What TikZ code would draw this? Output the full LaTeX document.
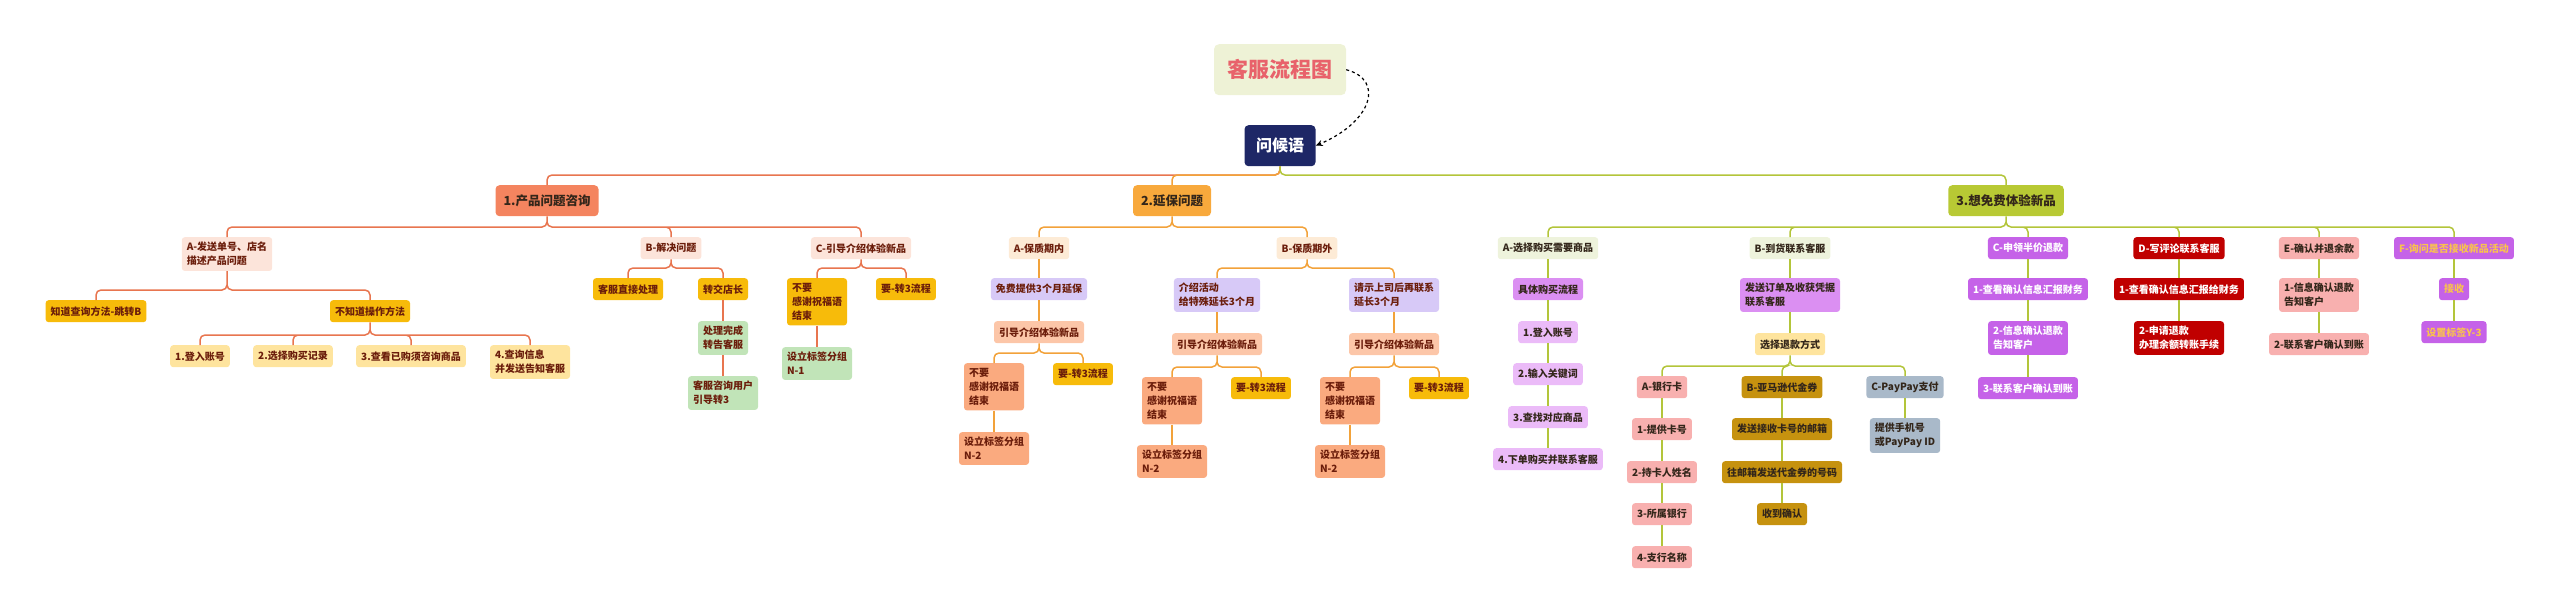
\documentclass[tikz,border=0pt]{standalone}
\usepackage{fontspec}
\setmainfont{Noto Sans CJK SC}
\usetikzlibrary{arrows.meta, calc}
\definecolor{titlered}{HTML}{E8626B}
\definecolor{titlebg}{HTML}{EEF2D6}
\definecolor{navy}{HTML}{1E2766}
\definecolor{lineone}{HTML}{E8754F}
\definecolor{linetwo}{HTML}{F2A23A}
\definecolor{linethree}{HTML}{B3C53A}
\definecolor{brown}{HTML}{6B1D0B}
\definecolor{darktxt}{HTML}{33261A}
\definecolor{prodfill}{HTML}{F4845F}
\definecolor{warrfill}{HTML}{F8A93C}
\definecolor{freefill}{HTML}{B8C934}
\definecolor{pinkfill}{HTML}{FCE4DA}
\definecolor{amberfill}{HTML}{F7BB0A}
\definecolor{yelfill}{HTML}{FEE49E}
\definecolor{greenfill}{HTML}{C1E4B8}
\definecolor{lavfill}{HTML}{D7C9F7}
\definecolor{lsalfill}{HTML}{FCC6A8}
\definecolor{salfill}{HTML}{FAAA7F}
\definecolor{peachfill}{HTML}{FDEBD6}
\definecolor{palegfill}{HTML}{EEF3DC}
\definecolor{purpmidfill}{HTML}{DB8FF2}
\definecolor{purplightfill}{HTML}{EBBBF8}
\definecolor{rosefill}{HTML}{F8B0AF}
\definecolor{goldfill}{HTML}{C6920F}
\definecolor{greybluefill}{HTML}{A9B9C9}
\definecolor{purpstrongfill}{HTML}{C562E8}
\definecolor{crimsonfill}{HTML}{C00000}
\definecolor{eventtxt}{HTML}{F9C24E}
\tikzset{
    box/.style={anchor=north, rounded corners=3pt, inner xsep=5pt, inner ysep=5pt,
        minimum height=22pt, align=left, font=\fontsize{10}{14}\selectfont\bfseries, text=brown},
    topic/.style={anchor=north, rounded corners=4pt, inner xsep=8pt, minimum height=31pt,
        font=\fontsize{12.5}{15}\selectfont\bfseries, text=darktxt},
    pinkbox/.style={box, fill=pinkfill},
    amber/.style={box, fill=amberfill},
    paleyel/.style={box, fill=yelfill},
    green/.style={box, fill=greenfill},
    lavender/.style={box, fill=lavfill},
    lsalmon/.style={box, fill=lsalfill},
    salmon/.style={box, fill=salfill},
    peach/.style={box, fill=peachfill},
    paleg/.style={box, fill=palegfill, text=darktxt},
    purpmid/.style={box, fill=purpmidfill, text=darktxt},
    purplight/.style={box, fill=purplightfill, text=darktxt},
    rose/.style={box, fill=rosefill, text=darktxt},
    gold/.style={box, fill=goldfill, text=darktxt},
    greyblue/.style={box, fill=greybluefill, text=darktxt},
    purpstrong/.style={box, fill=purpstrongfill, text=white},
    crimson/.style={box, fill=crimsonfill, text=white},
    linkone/.style={draw=lineone, line width=1.5pt, rounded corners=5pt},
    linktwo/.style={draw=linetwo, line width=1.5pt, rounded corners=5pt},
    linkthree/.style={draw=linethree, line width=1.5pt, rounded corners=5pt}
}

\begin{document}
\begin{tikzpicture}[x=1pt, y=-1pt]
    \useasboundingbox (0,0) rectangle (2560,613);
    % title and root
    \node[anchor=north, fill=titlebg, rounded corners=5pt, minimum width=132pt, minimum height=51pt,
        text=titlered, font=\fontsize{21}{24}\selectfont\bfseries] (title) at (1280,44) {客服流程图};
    \node[anchor=north, fill=navy, rounded corners=4pt, minimum width=71pt, minimum height=41pt,
        text=white, font=\fontsize{16}{18}\selectfont\bfseries] (greet) at (1280,125) {问候语};
    \draw[dashed, line width=1.2pt, -{Stealth[length=7pt,width=6pt]}] (title.east)
        .. controls (1385,80) and (1372,122) .. (greet.east);

    % main topics
    \node[topic, fill=prodfill] (prod) at (547,185) {1.产品问题咨询};
    \node[topic, fill=warrfill] (warr) at (1172,185) {2.延保问题};
    \node[topic, fill=freefill] (free) at (2006,185) {3.想免费体验新品};
    \draw[linkone] (greet.south) |- ([yshift=10pt]prod.north) -- (prod.north);
    \draw[linktwo] (greet.south) |- ([yshift=10pt]warr.north) -- (warr.north);
    \draw[linkthree] (greet.south) |- ([yshift=10pt]free.north) -- (free.north);

    % 1. product questions
    \node[pinkbox] (sendno) at (227,237) {A-发送单号、店名\\描述产品问题};
    \node[pinkbox] (solve) at (671,237) {B-解决问题};
    \node[pinkbox] (guide) at (861,237) {C-引导介绍体验新品};
    \node[amber] (knows) at (96,300) {知道查询方法-跳转B};
    \node[amber] (unknown) at (370,300) {不知道操作方法};
    \node[paleyel] (login) at (200,345) {1.登入账号};
    \node[paleyel] (record) at (293,345) {2.选择购买记录};
    \node[paleyel] (check) at (411,345) {3.查看已购须咨询商品};
    \node[paleyel] (query) at (530,345) {4.查询信息\\并发送告知客服};
    \node[amber] (direct) at (628,278) {客服直接处理};
    \node[amber] (manager) at (723,278) {转交店长};
    \node[green] (done) at (723,321) {处理完成\\转告客服};
    \node[green] (ask) at (723,376) {客服咨询用户\\引导转3};
    \node[amber] (noC) at (817,278) {不要\\感谢祝福语\\结束};
    \node[amber] (yesC) at (906,278) {要-转3流程};
    \node[green] (tagC) at (817,347) {设立标签分组\\N-1};
    \draw[linkone] (prod.south) |- ([yshift=10pt]sendno.north) -- (sendno.north)
        (prod.south) |- ([yshift=10pt]solve.north) -- (solve.north)
        (prod.south) |- ([yshift=10pt]guide.north) -- (guide.north);
    \draw[linkone] (sendno.south) |- ([yshift=10pt]knows.north) -- (knows.north)
        (sendno.south) |- ([yshift=10pt]unknown.north) -- (unknown.north);
    \draw[linkone] (unknown.south) |- ([yshift=10pt]login.north) -- (login.north)
        (unknown.south) |- ([yshift=10pt]record.north) -- (record.north)
        (unknown.south) |- ([yshift=10pt]check.north) -- (check.north)
        (unknown.south) |- ([yshift=10pt]query.north) -- (query.north);
    \draw[linkone] (solve.south) |- ([yshift=10pt]direct.north) -- (direct.north)
        (solve.south) |- ([yshift=10pt]manager.north) -- (manager.north);
    \draw[linkone] (manager) -- (done) (done) -- (ask);
    \draw[linkone] (guide.south) |- ([yshift=10pt]noC.north) -- (noC.north)
        (guide.south) |- ([yshift=10pt]yesC.north) -- (yesC.north);
    \draw[linkone] (noC) -- (tagC);

    % 2. extended warranty
    \node[peach] (inside) at (1039,237) {A-保质期内};
    \node[lavender] (freeext) at (1039,278) {免费提供3个月延保};
    \node[lsalmon] (introA) at (1039,321) {引导介绍体验新品};
    \node[salmon] (noA) at (994,363) {不要\\感谢祝福语\\结束};
    \node[amber] (yesA) at (1083,363) {要-转3流程};
    \node[salmon] (tagA) at (994,432) {设立标签分组\\N-2};
    \node[peach] (outside) at (1307,237) {B-保质期外};
    \node[lavender] (promo) at (1217,278) {介绍活动\\给特殊延长3个月};
    \node[lavender] (boss) at (1394,278) {请示上司后再联系\\延长3个月};
    \node[lsalmon] (introB) at (1217,333) {引导介绍体验新品};
    \node[salmon] (noB) at (1172,377) {不要\\感谢祝福语\\结束};
    \node[amber] (yesB) at (1261,377) {要-转3流程};
    \node[salmon] (tagB) at (1172,445) {设立标签分组\\N-2};
    \node[lsalmon] (introD) at (1394,333) {引导介绍体验新品};
    \node[salmon] (noD) at (1350,377) {不要\\感谢祝福语\\结束};
    \node[amber] (yesD) at (1439,377) {要-转3流程};
    \node[salmon] (tagD) at (1350,445) {设立标签分组\\N-2};
    \draw[linktwo] (warr.south) |- ([yshift=10pt]inside.north) -- (inside.north)
        (warr.south) |- ([yshift=10pt]outside.north) -- (outside.north);
    \draw[linktwo] (inside) -- (freeext) (freeext) -- (introA) (noA) -- (tagA);
    \draw[linktwo] (introA.south) |- ([yshift=10pt]noA.north) -- (noA.north)
        (introA.south) |- ([yshift=10pt]yesA.north) -- (yesA.north);
    \draw[linktwo] (outside.south) |- ([yshift=10pt]promo.north) -- (promo.north)
        (outside.south) |- ([yshift=10pt]boss.north) -- (boss.north);
    \draw[linktwo] (promo) -- (introB) (noB) -- (tagB) (boss) -- (introD) (noD) -- (tagD);
    \draw[linktwo] (introB.south) |- ([yshift=10pt]noB.north) -- (noB.north)
        (introB.south) |- ([yshift=10pt]yesB.north) -- (yesB.north);
    \draw[linktwo] (introD.south) |- ([yshift=10pt]noD.north) -- (noD.north)
        (introD.south) |- ([yshift=10pt]yesD.north) -- (yesD.north);

    % 3. free trial of new products
    \node[paleg] (pick) at (1548,237) {A-选择购买需要商品};
    \node[purpmid] (flow) at (1548,278) {具体购买流程};
    \node[purplight] (step1) at (1548,321) {1.登入账号};
    \node[purplight] (step2) at (1548,363) {2.输入关键词};
    \node[purplight] (step3) at (1548,406) {3.查找对应商品};
    \node[purplight] (step4) at (1548,448) {4.下单购买并联系客服};
    \node[paleg] (arrive) at (1790,237) {B-到货联系客服};
    \node[purpmid] (order) at (1790,278) {发送订单及收获凭据\\联系客服};
    \node[paleyel, text=darktxt] (refund) at (1790,333) {选择退款方式};
    \node[rose] (bank) at (1662,376) {A-银行卡};
    \node[rose] (bank1) at (1662,418) {1-提供卡号};
    \node[rose] (bank2) at (1662,461) {2-持卡人姓名};
    \node[rose] (bank3) at (1662,503) {3-所属银行};
    \node[rose] (bank4) at (1662,546) {4-支行名称};
    \node[gold] (amzn) at (1782,376) {B-亚马逊代金券};
    \node[gold] (amzn1) at (1782,418) {发送接收卡号的邮箱};
    \node[gold] (amzn2) at (1782,461) {往邮箱发送代金券的号码};
    \node[gold] (amzn3) at (1782,503) {收到确认};
    \node[greyblue] (paypay) at (1905,376) {C-PayPay支付};
    \node[greyblue] (paypay1) at (1905,418) {提供手机号\\或PayPay ID};
    \node[purpstrong] (half) at (2028,237) {C-申领半价退款};
    \node[purpstrong] (half1) at (2028,278) {1-查看确认信息汇报财务};
    \node[purpstrong] (half2) at (2028,321) {2-信息确认退款\\告知客户};
    \node[purpstrong] (half3) at (2028,377) {3-联系客户确认到账};
    \node[crimson] (review) at (2179,237) {D-写评论联系客服};
    \node[crimson] (review1) at (2179,278) {1-查看确认信息汇报给财务};
    \node[crimson] (review2) at (2179,321) {2-申请退款\\办理余额转账手续};
    \node[rose] (rest) at (2319,237) {E-确认并退余款};
    \node[rose] (rest1) at (2319,278) {1-信息确认退款\\告知客户};
    \node[rose] (rest2) at (2319,333) {2-联系客户确认到账};
    \node[purpstrong, text=eventtxt] (event) at (2454,237) {F-询问是否接收新品活动};
    \node[purpstrong, text=eventtxt] (accept) at (2454,278) {接收};
    \node[purpstrong, text=eventtxt] (tagY) at (2454,321) {设置标签Y-3};
    \draw[linkthree] (free.south) |- ([yshift=10pt]pick.north) -- (pick.north)
        (free.south) |- ([yshift=10pt]arrive.north) -- (arrive.north)
        (free.south) |- ([yshift=10pt]half.north) -- (half.north)
        (free.south) |- ([yshift=10pt]review.north) -- (review.north)
        (free.south) |- ([yshift=10pt]rest.north) -- (rest.north)
        (free.south) |- ([yshift=10pt]event.north) -- (event.north);
    \draw[linkthree] (pick) -- (flow) (flow) -- (step1) (step1) -- (step2)
        (step2) -- (step3) (step3) -- (step4);
    \draw[linkthree] (arrive) -- (order) (order) -- (refund);
    \draw[linkthree] (refund.south) |- ([yshift=10pt]bank.north) -- (bank.north)
        (refund.south) |- ([yshift=10pt]amzn.north) -- (amzn.north)
        (refund.south) |- ([yshift=10pt]paypay.north) -- (paypay.north);
    \draw[linkthree] (bank) -- (bank1) (bank1) -- (bank2) (bank2) -- (bank3) (bank3) -- (bank4);
    \draw[linkthree] (amzn) -- (amzn1) (amzn1) -- (amzn2) (amzn2) -- (amzn3);
    \draw[linkthree] (paypay) -- (paypay1);
    \draw[linkthree] (half) -- (half1) (half1) -- (half2) (half2) -- (half3);
    \draw[linkthree] (review) -- (review1) (review1) -- (review2);
    \draw[linkthree] (rest) -- (rest1) (rest1) -- (rest2);
    \draw[linkthree] (event) -- (accept) (accept) -- (tagY);
\end{tikzpicture}
\end{document}
